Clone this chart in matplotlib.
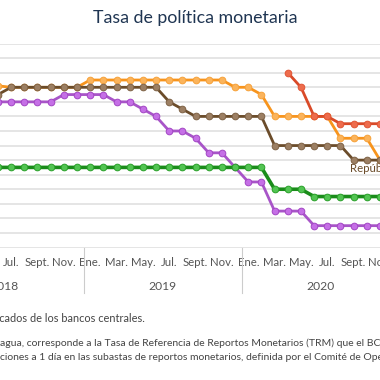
import matplotlib
matplotlib.use("Agg")
import matplotlib.pyplot as plt
import matplotlib.transforms as mtransforms
import numpy as np

# Month index (0 = Jan 2018); data from Jun 2018 (5) to Nov 2020 (34)
months = list(range(5, 35))

guatemala = [2.75]*21 + [2.0]*3 + [1.75]*6
costa_rica = ([5.0]*5 + [5.25]*4 + [5.0]*2 +
              [4.75, 4.5, 4.0, 4.0, 3.75, 3.25, 3.25, 2.75, 2.25, 2.25] +
              [1.25]*3 + [0.75]*6)
rep_dominicana = [5.25] + [5.5]*12 + [5.0, 4.75] + [4.5]*6 + [3.5]*6 + [3.0]*3
honduras = [5.55] + [5.5]*6 + [5.75]*11 + [5.5, 5.5, 5.25] + [4.5]*5 + [3.75]*3 + [3.0]
nicaragua = [np.nan]*22 + [6.0, 5.5, 4.5, 4.5, 4.25, 4.25, 4.25, 4.25]

tick_months = list(range(6, 35, 2))
tick_labels = ["Jul.", "Sept.", "Nov.", "Ene.", "Mar.", "May.", "Jul.", "Sept.", "Nov.",
               "Ene.", "Mar.", "May.", "Jul.", "Sept.", "Nov."]
years = ["2018", "2019", "2020"]
year_centers = [5.5, 17.5, 29.5]
year_breaks = [11.5, 23.5]

plt.rcParams['font.family'] = ['Lato', 'DejaVu Sans']

W, H = 380, 380
fig = plt.figure(figsize=(W/100, H/100), dpi=100)
fig.patch.set_facecolor("white")

ax_bottom_px = 247.5
ax_top_px = 43.6
ax = fig.add_axes([0, (H-ax_bottom_px)/H, 1, (ax_bottom_px-ax_top_px)/H])
x0 = 5.155
px_per_month = 13.25
ax.set_xlim(x0, x0 + W/px_per_month)
ax.set_ylim(0, 7)
for s in ax.spines.values():
    s.set_visible(False)
ax.set_yticks(np.arange(0, 7.01, 0.5))
ax.yaxis.grid(True, color="#dedede", linewidth=1.1)
ax.set_axisbelow(True)
ax.tick_params(axis='y', left=False, labelleft=False)
ax.set_xticks(tick_months)
ax.set_xticklabels(tick_labels, fontsize=8.2, color="#555555")
ax.tick_params(axis='x', length=0, pad=7)

def series(vals, line_c, face_c, edge_c, lw, z):
    ax.plot(months, vals, color=line_c, lw=lw, marker='o', markersize=4.8,
            markerfacecolor=face_c, markeredgecolor=edge_c, markeredgewidth=0.7,
            zorder=z, clip_on=True)

series(costa_rica, "#a855c8", "#c56fe6", "#a346c4", 2.0, 3)
series(honduras, "#f7941d", "#fbb45c", "#f7a23a", 2.0, 4)
series(rep_dominicana, "#6b4c2a", "#9c7f63", "#7e6246", 2.0, 5)
series(guatemala, "#1a8c1a", "#52c452", "#2aa02a", 2.6, 6)
series(nicaragua, "#d94a28", "#ee6c4c", "#e05535", 2.0, 7)

ax.text(31.72, 2.59, "República Dominicana", fontsize=8.2, color="#6b4c2a",
        va="baseline", ha="left", clip_on=False, zorder=8)

trans = mtransforms.blended_transform_factory(ax.transData, ax.transAxes)
sep_bottom = -(293 - ax_bottom_px) / (ax_bottom_px - ax_top_px)
for b in year_breaks:
    ax.plot([b, b], [0, sep_bottom], transform=trans, color="#cccccc", lw=0.8,
            clip_on=False)
year_y = -(286 - ax_bottom_px) / (ax_bottom_px - ax_top_px)
for yl, xc in zip(years, year_centers):
    ax.text(xc, year_y, yl, transform=trans, ha="center", va="center",
            fontsize=8.7, color="#555555", clip_on=False)

fig.text(195.5/W, 1 - 18/H, "Tasa de política monetaria", ha="center", va="center",
         fontsize=12.8, color="#1f3552")

fig.text(145/W, 1 - 318/H,
         "Fuente: elaboración propia con base en datos publicados de los bancos centrales.",
         ha="right", va="center", fontsize=7.9, color="#444444")
notes = [
    (343, "agua, corresponde a la Tasa de Referencia de Reportos Monetarios (TRM) que el BCN utiliza"),
    (358, "ciones a 1 día en las subastas de reportos monetarios, definida por el Comité de Operaciones Monetarias."),
]
for ypx, t in notes:
    fig.text(0.0, 1 - ypx/H, t, ha="left", va="center", fontsize=7.5, color="#444444")

fig.savefig("out.png", dpi=100, facecolor="white")
